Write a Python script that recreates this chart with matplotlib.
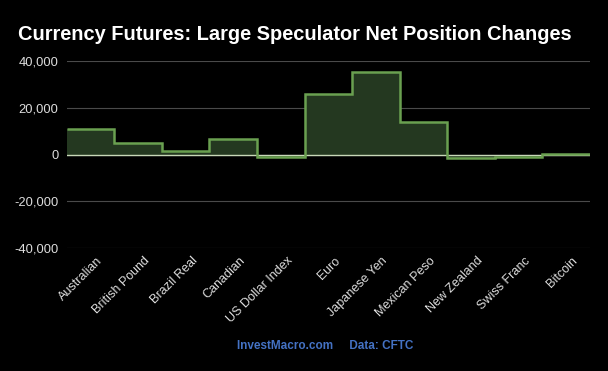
import numpy as np
import matplotlib
matplotlib.use('Agg')
import matplotlib.pyplot as plt
from matplotlib.ticker import FuncFormatter

# weekly change in large speculator net positions (contracts)
currencies = ['Australian', 'British Pound', 'Brazil Real', 'Canadian', 'US Dollar Index',
              'Euro', 'Japanese Yen', 'Mexican Peso', 'New Zealand', 'Swiss Franc', 'Bitcoin']
net_change = [11000, 5000, 1400, 6600, -1000, 26000, 35400, 14000, -1600, -1100, 400]

plt.rcParams['font.family'] = ['Liberation Sans', 'DejaVu Sans']

fig = plt.figure(figsize=(6.08, 3.71), dpi=100, facecolor='black')
ax = fig.add_axes([0.110, 0.3315, 0.860, 0.5041], facecolor='black')

edges = np.arange(len(currencies) + 1)
ax.stairs(net_change, edges, fill=True, baseline=0, color='#243820', zorder=2)
ax.stairs(net_change, edges, baseline=None, color='#6aa050', linewidth=1.8, zorder=3)
ax.axhline(0, color='#c8d8b8', linewidth=1, zorder=2.5)

ax.set_xlim(0, len(currencies))
ax.set_ylim(-40000, 40000)
ax.set_yticks([-40000, -20000, 0, 20000, 40000])
ax.yaxis.set_major_formatter(FuncFormatter(lambda v, p: f'{int(v):,}'))
ax.grid(axis='y', color='#4a4a4a', linewidth=0.8, zorder=0)
ax.set_xticks(edges[:-1] + 0.62)
ax.set_xticklabels(currencies, rotation=45, ha='right', rotation_mode='anchor')
ax.tick_params(axis='x', length=0, colors='#dddddd', labelsize=9, pad=5)
ax.tick_params(axis='y', length=0, colors='#dddddd', labelsize=9.3, pad=6)
for s in ax.spines.values():
    s.set_visible(False)

fig.text(0.03, 0.908, 'Currency Futures: Large Speculator Net Position Changes',
         color='white', fontsize=14.4, fontweight='bold', ha='left', va='center')
fig.text(0.535, 0.068, 'InvestMacro.com     Data: CFTC', color='#4472c4',
         fontsize=8.5, fontweight='bold', ha='center', va='center')

fig.savefig('out.png', dpi=100, facecolor='black')
